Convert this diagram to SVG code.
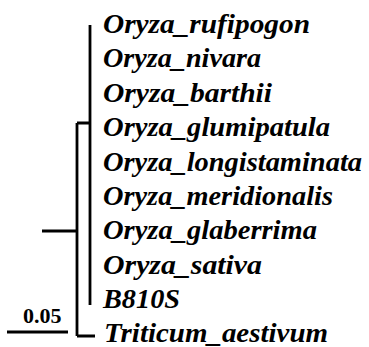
<svg xmlns="http://www.w3.org/2000/svg" width="369" height="347" viewBox="0 0 369 347">
<style>
.lbl{font-family:"Liberation Serif","Times New Roman",serif;font-weight:bold;font-style:italic;font-size:27px;fill:#000}
.scale{font-family:"Liberation Serif","Times New Roman",serif;font-weight:bold;font-size:22px;fill:#000}
.br{stroke:#000;stroke-width:2.8;fill:none;stroke-linecap:butt}
</style>
<rect width="369" height="347" fill="#fff"/>
<g id="connectors">
<path class="br" d="M42,231H77M77,123V336M77,123H90M90,25V305M77,336H95"/>
</g>
<g id="scalebar">
<path class="br" d="M7,332H68"/>
<text class="scale" x="23" y="323">0.05</text>
</g>
<g id="n1"><text class="lbl" x="103" y="33" textLength="207" lengthAdjust="spacingAndGlyphs">Oryza_rufipogon</text></g>
<g id="n2"><text class="lbl" x="103" y="67" textLength="158" lengthAdjust="spacingAndGlyphs">Oryza_nivara</text></g>
<g id="n3"><text class="lbl" x="103" y="102" textLength="169" lengthAdjust="spacingAndGlyphs">Oryza_barthii</text></g>
<g id="n4"><text class="lbl" x="103" y="136" textLength="227" lengthAdjust="spacingAndGlyphs">Oryza_glumipatula</text></g>
<g id="n5"><text class="lbl" x="103" y="171" textLength="259" lengthAdjust="spacingAndGlyphs">Oryza_longistaminata</text></g>
<g id="n6"><text class="lbl" x="103" y="205" textLength="230" lengthAdjust="spacingAndGlyphs">Oryza_meridionalis</text></g>
<g id="n7"><text class="lbl" x="103" y="239" textLength="214" lengthAdjust="spacingAndGlyphs">Oryza_glaberrima</text></g>
<g id="n8"><text class="lbl" x="103" y="274" textLength="159" lengthAdjust="spacingAndGlyphs">Oryza_sativa</text></g>
<g id="n9"><text class="lbl" x="103" y="308" textLength="77" lengthAdjust="spacingAndGlyphs">B810S</text></g>
<g id="n10"><text class="lbl" x="104" y="342" textLength="224" lengthAdjust="spacingAndGlyphs">Triticum_aestivum</text></g>
</svg>
